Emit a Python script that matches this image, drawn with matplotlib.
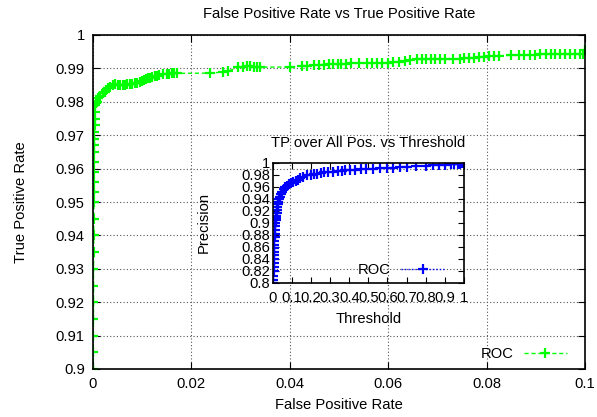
import numpy as np
import matplotlib.pyplot as plt
from matplotlib.ticker import FuncFormatter

plt.rcParams['font.family'] = ['Liberation Sans', 'DejaVu Sans']
plt.rcParams['font.size'] = 10.6

# main ROC curve (false positive rate, true positive rate)
fpr = [0, 0.00005, 0.00005, 0.0001, 0.0001, 0.0001, 0.0001, 0.00015, 0.00015,
       0.00015, 0.0002, 0.0002, 0.0002, 0.0002, 0.00025, 0.00025, 0.0003, 0.0003,
       0.0003, 0.00035, 0.0004, 0.0004, 0.0005, 0.0006, 0.0008,
       0.0011, 0.0015, 0.002, 0.0024, 0.0027, 0.0031, 0.0035, 0.0041, 0.0045,
       0.005, 0.0055, 0.006, 0.0065, 0.007, 0.0075, 0.008, 0.0085, 0.009, 0.0095,
       0.01, 0.0104, 0.0108, 0.0112, 0.0116, 0.012, 0.0125, 0.013, 0.0135,
       0.0142, 0.015, 0.0155, 0.016, 0.0165, 0.017, 0.0238, 0.0264, 0.0275,
       0.0295, 0.0304, 0.0313, 0.032, 0.0327, 0.0334, 0.034, 0.04, 0.0425,
       0.0435, 0.045, 0.046, 0.047, 0.048, 0.0488, 0.0497, 0.0505, 0.0515,
       0.0525, 0.054, 0.0557, 0.0567, 0.0577, 0.0588, 0.06, 0.061, 0.0622,
       0.0635, 0.0645, 0.0659, 0.0668, 0.0677, 0.0686, 0.0695, 0.0705, 0.0715,
       0.0732, 0.0745, 0.0755, 0.0765, 0.0775, 0.0785, 0.0795, 0.0805, 0.0815,
       0.0825, 0.085, 0.0865, 0.0875, 0.0888, 0.0898, 0.0909, 0.092, 0.093,
       0.094, 0.095, 0.096, 0.097, 0.098, 0.099, 0.0996, 0.1]
tpr = [0.9, 0.905, 0.91, 0.915, 0.92, 0.925, 0.93, 0.935, 0.94,
       0.945, 0.95, 0.953, 0.956, 0.959, 0.962, 0.965, 0.967, 0.969,
       0.971, 0.973, 0.975, 0.977, 0.979, 0.9795, 0.98,
       0.9812, 0.9818, 0.9825, 0.983, 0.9835, 0.984, 0.9845, 0.985, 0.9852,
       0.985, 0.985, 0.985, 0.9851, 0.9852, 0.9853, 0.9854, 0.9855, 0.9857, 0.9859,
       0.9862, 0.9865, 0.9868, 0.987, 0.9872, 0.9874, 0.9876, 0.9878, 0.988,
       0.9882, 0.9883, 0.9884, 0.9885, 0.9885, 0.9885, 0.9886, 0.9889, 0.9892,
       0.9903, 0.9905, 0.9907, 0.9906, 0.9905, 0.9904, 0.9904, 0.9904, 0.9907,
       0.9908, 0.9909, 0.991, 0.9911, 0.9912, 0.9913, 0.9913, 0.9914, 0.9914,
       0.9915, 0.9915, 0.9916, 0.9916, 0.9917, 0.9917, 0.9917, 0.9918, 0.992,
       0.9922, 0.9924, 0.9927, 0.9927, 0.9927, 0.9927, 0.9928, 0.9928, 0.9928,
       0.9928, 0.9929, 0.993, 0.993, 0.9931, 0.9933, 0.9935, 0.9937, 0.9938,
       0.9938, 0.9939, 0.9939, 0.994, 0.994, 0.9941, 0.9942, 0.9943, 0.9943,
       0.9943, 0.9943, 0.9943, 0.9943, 0.9943, 0.9943, 0.9943, 0.9955]

# inset: precision vs threshold
thr = [0, 0.003, 0.004, 0.005, 0.005, 0.006, 0.006, 0.007, 0.007, 0.008, 0.008,
       0.009, 0.01, 0.011, 0.012, 0.013, 0.014, 0.015, 0.017, 0.018, 0.02, 0.022,
       0.024, 0.027, 0.03, 0.034, 0.038, 0.044, 0.05, 0.057, 0.064, 0.075, 0.085,
       0.095, 0.108, 0.12, 0.13, 0.145, 0.16, 0.18, 0.2, 0.215, 0.23, 0.25, 0.27,
       0.29, 0.317, 0.34, 0.36, 0.38, 0.404, 0.43, 0.46, 0.49, 0.525, 0.56, 0.6,
       0.63, 0.665, 0.7, 0.75, 0.8, 0.84, 0.87, 0.9, 0.93, 0.95, 0.97, 0.98,
       0.99, 1.0]
prec = [0.8, 0.805, 0.812, 0.82, 0.826, 0.833, 0.84, 0.846, 0.852, 0.858, 0.864,
        0.87, 0.876, 0.882, 0.888, 0.894, 0.9, 0.904, 0.908, 0.912, 0.916, 0.921,
        0.927, 0.931, 0.935, 0.939, 0.943, 0.948, 0.952, 0.956, 0.96, 0.962, 0.964,
        0.966, 0.968, 0.97, 0.972, 0.975, 0.977, 0.979, 0.98, 0.981, 0.982, 0.983,
        0.984, 0.9845, 0.985, 0.986, 0.987, 0.9875, 0.988, 0.9885, 0.989, 0.9895,
        0.99, 0.9905, 0.991, 0.992, 0.993, 0.9935, 0.994, 0.995, 0.996, 0.9965,
        0.997, 0.9975, 0.998, 0.998, 0.9985, 0.9988, 0.999]

fig = plt.figure(figsize=(5.97, 4.17), dpi=100)
ax = fig.add_axes([93/597, 1-369/417, 492/597, 334/417])
ax.plot(fpr, tpr, color='#00ff00', linestyle=(0, (3, 2)), linewidth=1,
        marker='+', markersize=7, markeredgewidth=1.6, label='ROC')
ax.set_xlim(0, 0.1)
ax.set_ylim(0.9, 1)
ax.set_xticks(np.arange(0, 0.1001, 0.02))
ax.set_yticks(np.arange(0.9, 1.0001, 0.01))
ax.xaxis.set_major_formatter(FuncFormatter(lambda v, p: '%g' % round(v, 4)))
ax.yaxis.set_major_formatter(FuncFormatter(lambda v, p: '%g' % round(v, 4)))
ax.tick_params(direction='in', top=True, right=True, length=5, pad=6)
ax.grid(True, color='#555555', linestyle=(0, (1, 2)), linewidth=0.8)
for s in ax.spines.values():
    s.set_linewidth(1.2)
ax.set_title('False Positive Rate vs True Positive Rate', fontsize=10.6, pad=12)
ax.set_xlabel('False Positive Rate', labelpad=5)
ax.set_ylabel('True Positive Rate', labelpad=20)
ax.legend(loc='center right', frameon=False, markerfirst=False, handlelength=2.9,
          handletextpad=0.7, borderpad=0, borderaxespad=0,
          bbox_to_anchor=(0.963, 0.045))

ins = fig.add_axes([272.7/597, 1-283/417, 191.3/597, 120.3/417])
ins.patch.set_alpha(0)
ins.plot(thr, prec, color='#0000ff', linestyle=(0, (1, 1.5)), linewidth=1,
         marker='+', markersize=7, markeredgewidth=1.6, label='ROC')
ins.set_xlim(0, 1)
ins.set_ylim(0.8, 1)
ins.set_xticks(np.arange(0, 1.001, 0.1))
ins.set_yticks(np.arange(0.8, 1.001, 0.02))
ins.xaxis.set_major_formatter(FuncFormatter(lambda v, p: '%g' % round(v, 3)))
ins.yaxis.set_major_formatter(FuncFormatter(lambda v, p: '%g' % round(v, 3)))
ins.tick_params(axis='x', direction='in', top=True, length=4, pad=6)
ins.tick_params(axis='y', direction='in', right=True, length=4, pad=2)
for s in ins.spines.values():
    s.set_linewidth(1.2)
ins.set_title('TP over All Pos. vs Threshold', fontsize=10.6, pad=11)
ins.set_xlabel('Threshold', labelpad=5)
ins.set_ylabel('Precision', labelpad=22)
ins.legend(loc='center right', frameon=False, markerfirst=False, handlelength=2.9,
           handletextpad=0.7, borderpad=0, borderaxespad=0,
           bbox_to_anchor=(0.895, 0.108))

fig.savefig('out.png', dpi=100)
